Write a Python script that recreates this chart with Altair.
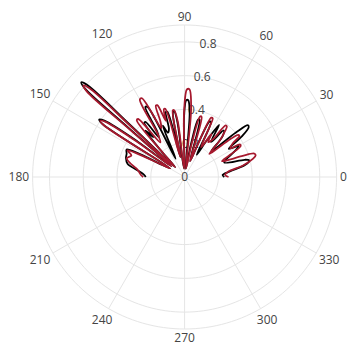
import math
import altair as alt
import pandas as pd

# ---- data (angle in degrees, radius) ----
black_theta = [0, 3, 7, 11, 13.2, 14.5, 16, 20, 24, 27, 30, 32.5, 35.5, 37.8, 39.2, 41, 44, 47, 50,
               53, 56.5, 59, 61.5, 64.3, 65.7, 68, 71, 75.3, 76.7, 79, 82, 85.5, 87.3, 88.7, 90.5,
               94, 97.5, 99, 100.2, 102, 104.8, 106.2, 108, 110.5, 113, 116, 117.9, 119.3, 121, 123,
               125.4, 126.6, 128, 130.2, 132, 134, 136.3, 136.6, 137.5, 138.4, 138.8, 141, 143,
               144.9, 146, 147.1, 149, 151.5, 154.6, 158, 162, 167, 173.5, 177, 180]
black_r = [0.235, 0.225, 0.27, 0.36, 0.39, 0.395, 0.37, 0.25, 0.28, 0.33, 0.37, 0.31, 0.42, 0.48,
           0.485, 0.40, 0.22, 0.33, 0.36, 0.26, 0.37, 0.24, 0.15, 0.36, 0.36, 0.22, 0.10, 0.35,
           0.35, 0.20, 0.05, 0.38, 0.455, 0.455, 0.36, 0.05, 0.33, 0.395, 0.39, 0.12, 0.40, 0.40,
           0.30, 0.28, 0.33, 0.12, 0.47, 0.475, 0.32, 0.28, 0.40, 0.40, 0.30, 0.36, 0.20, 0.08,
           0.45, 0.79, 0.83, 0.79, 0.45, 0.10, 0.35, 0.58, 0.61, 0.58, 0.10, 0.15, 0.38, 0.37,
           0.365, 0.347, 0.264, 0.24, 0.23]

red_theta = [0, 3, 7, 11, 15, 17, 18.6, 20, 23, 26, 29, 30.6, 32, 35, 36.7, 38.1, 40, 43, 46, 48.5,
             50.1, 51.5, 53, 56, 58, 61, 63.5, 64.4, 65.8, 68, 71, 74.2, 75.6, 78, 81, 84.5, 86.8,
             88.4, 90.5, 93.5, 97, 98.9, 100.1, 102, 105.8, 107, 108.5, 110.8, 112, 113.5, 115.5,
             118.4, 120, 122, 125, 128.7, 130.1, 132, 134.5, 136.7, 137.0, 137.9, 138.8, 139.1,
             141, 143.5, 145.1, 146.2, 147.3, 149, 151.5, 155, 158, 162, 166, 170, 174, 177, 180]
red_r = [0.26, 0.24, 0.26, 0.35, 0.42, 0.44, 0.435, 0.36, 0.24, 0.30, 0.38, 0.38, 0.32, 0.35, 0.405,
         0.405, 0.33, 0.20, 0.30, 0.36, 0.39, 0.39, 0.28, 0.25, 0.30, 0.20, 0.33, 0.385, 0.385,
         0.20, 0.10, 0.37, 0.37, 0.20, 0.05, 0.40, 0.52, 0.52, 0.38, 0.05, 0.33, 0.40, 0.40, 0.12,
         0.42, 0.42, 0.35, 0.455, 0.455, 0.36, 0.32, 0.53, 0.53, 0.30, 0.25, 0.44, 0.44, 0.20,
         0.08, 0.44, 0.77, 0.808, 0.77, 0.44, 0.10, 0.35, 0.57, 0.60, 0.57, 0.10, 0.15, 0.373,
         0.34, 0.36, 0.33, 0.29, 0.27, 0.26, 0.245]

radial_ticks = [0, 0.2, 0.4, 0.6, 0.8]
radial_tick_labels = ["0", "0.2", "0.4", "0.6", "0.8"]
angular_ticks = [0, 30, 60, 90, 120, 150, 180, 210, 240, 270, 300, 330]
angular_tick_labels = ["0", "30", "60", "90", "120", "150", "180", "210", "240", "270", "300", "330"]
radial_max = 0.9

# ---- layout ----
SIZE = 304
PX_PER_UNIT = SIZE / (2 * radial_max)
TOTAL_W, TOTAL_H = 341, 340
PAD_L, PAD_T = 24.6, 17
PAD = {"left": PAD_L, "top": PAD_T, "right": TOTAL_W - PAD_L - SIZE, "bottom": TOTAL_H - PAD_T - SIZE}
GRID = "#e5e5e5"
FONT = "Open Sans"
TEXT = "#444444"

xs = alt.Scale(domain=[-radial_max, radial_max], nice=False, zero=False)
ys = alt.Scale(domain=[-radial_max, radial_max], nice=False, zero=False)
polar_xy = dict(
    x="datum.r * cos(datum.theta * PI / 180)",
    y="datum.r * sin(datum.theta * PI / 180)",
)

# grid circles
ring_rows = []
for v in radial_ticks[1:] + [radial_max]:
    for k, t in enumerate(range(0, 361, 2)):
        ring_rows.append({"ring": v, "r": v, "theta": t, "i": k})
rings = (
    alt.Chart(pd.DataFrame(ring_rows))
    .transform_calculate(**polar_xy)
    .mark_line(stroke=GRID, strokeWidth=1)
    .encode(x=alt.X("x:Q", scale=xs, axis=None), y=alt.Y("y:Q", scale=ys, axis=None),
            detail="ring:N", order="i:Q")
)

# spokes
spoke_df = pd.DataFrame({"theta": angular_ticks})
spokes = (
    alt.Chart(spoke_df)
    .transform_calculate(
        x0="0", y0="0",
        x1=f"{radial_max} * cos(datum.theta * PI / 180)",
        y1=f"{radial_max} * sin(datum.theta * PI / 180)",
    )
    .mark_rule(stroke=GRID, strokeWidth=1)
    .encode(x=alt.X("x0:Q", scale=xs, axis=None), y=alt.Y("y0:Q", scale=ys, axis=None),
            x2="x1:Q", y2="y1:Q")
)

# angular labels outside the outer circle
char_w = 6.9
half_h = 5.0
gap = 3.5
cx_px = PAD_L + SIZE / 2
cy_px = PAD_T + SIZE / 2
lab_rows = []
for a, s in zip(angular_ticks, angular_tick_labels):
    c, sn = math.cos(math.radians(a)), math.sin(math.radians(a))
    hw = char_w * len(s) / 2
    dist_px = SIZE / 2 + gap + hw * abs(c) + half_h * abs(sn)
    px = cx_px + dist_px * c
    py = cy_px - dist_px * sn
    px = min(max(px, hw + 0.5), TOTAL_W - hw - 0.5)
    py = min(max(py, half_h + 2), TOTAL_H - half_h - 2)
    lab_rows.append({"label": s, "lx": (px - cx_px) / PX_PER_UNIT, "ly": (cy_px - py) / PX_PER_UNIT})
ang_labels = (
    alt.Chart(pd.DataFrame(lab_rows))
    .mark_text(font=FONT, fontSize=12, color=TEXT, align="center", baseline="middle")
    .encode(x=alt.X("lx:Q", scale=xs, axis=None), y=alt.Y("ly:Q", scale=ys, axis=None), text="label:N")
)

# radial tick labels (along the 80 degree direction)
rad_df = pd.DataFrame({"r": radial_ticks, "label": radial_tick_labels, "theta": [80] * len(radial_ticks)})
rad_labels = (
    alt.Chart(rad_df)
    .transform_calculate(**polar_xy)
    .mark_text(font=FONT, fontSize=12, color=TEXT, align="center", baseline="middle")
    .encode(x=alt.X("x:Q", scale=xs, axis=None), y=alt.Y("y:Q", scale=ys, axis=None), text="label:N")
)


def series_layer(theta, r, color):
    df = pd.DataFrame({"theta": theta, "r": r, "i": range(len(theta))})
    return (
        alt.Chart(df)
        .transform_calculate(**polar_xy)
        .mark_line(stroke=color, strokeWidth=1.8, interpolate="catmull-rom")
        .encode(x=alt.X("x:Q", scale=xs, axis=None), y=alt.Y("y:Q", scale=ys, axis=None), order="i:Q")
    )


black_line = series_layer(black_theta, black_r, "#000000")
red_line = series_layer(red_theta, red_r, "#a6192e")

chart = (
    alt.layer(rings, spokes, ang_labels, rad_labels, black_line, red_line)
    .properties(width=SIZE, height=SIZE, autosize=alt.AutoSizeParams(type="none"), padding=PAD)
    .configure_view(stroke=None)
)

chart.save("out.html", embed_options={"renderer": "svg", "actions": False})
